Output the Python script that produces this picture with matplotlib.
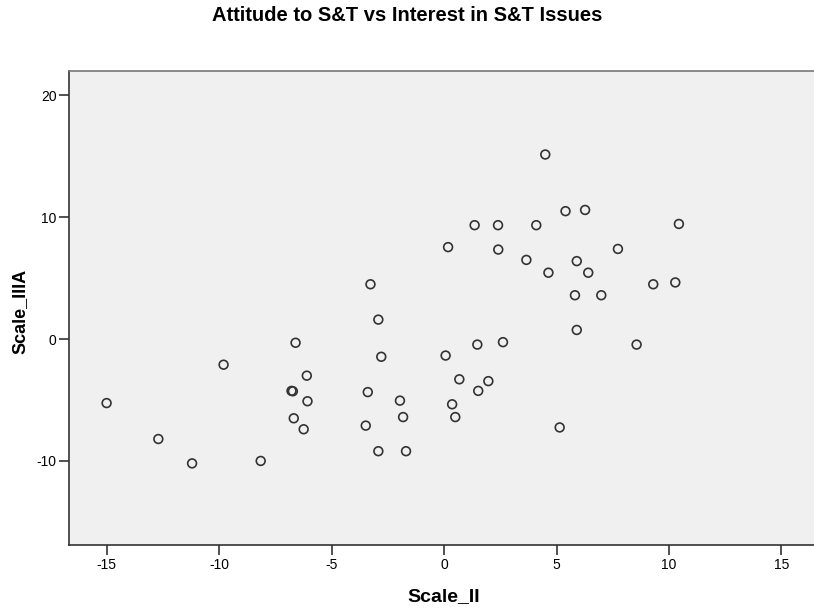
import matplotlib
matplotlib.use("Agg")
import matplotlib.pyplot as plt

plt.rcParams['font.family'] = ['Liberation Sans', 'DejaVu Sans']
plt.rcParams['axes.unicode_minus'] = False

# Scale_II (x) and Scale_IIIA (y) scores
scale_ii = [-15.0, -12.7, -11.2, -9.8, -8.15, -6.6, -6.1, -6.78, -6.72, -6.07,
            -6.68, -6.24, -3.27, -2.92, -2.79, -3.39, -3.48, -2.92, -1.69, -1.96,
            -1.82, 0.07, 0.18, 0.68, 0.36, 0.5, 1.48, 1.52, 1.97, 2.62,
            1.36, 2.4, 2.41, 4.1, 3.66, 4.5, 4.64, 5.4, 6.27, 5.9,
            6.41, 5.82, 6.99, 7.73, 5.9, 5.14, 8.56, 9.3, 10.28, 10.44]
scale_iiia = [-5.25, -8.2, -10.2, -2.1, -10.0, -0.3, -3.0, -4.25, -4.28, -5.1,
              -6.5, -7.4, 4.5, 1.6, -1.45, -4.35, -7.1, -9.2, -9.2, -5.05,
              -6.4, -1.35, 7.55, -3.3, -5.35, -6.4, -0.45, -4.25, -3.45, -0.25,
              9.35, 9.35, 7.35, 9.35, 6.5, 15.15, 5.45, 10.5, 10.6, 6.4,
              5.45, 3.6, 3.6, 7.4, 0.75, -7.25, -0.45, 4.5, 4.65, 9.45]
x_ticks = [-15, -10, -5, 0, 5, 10, 15]
y_ticks = [-10, 0, 10, 20]

fig = plt.figure(figsize=(8.14, 6.13), dpi=100)
ax = fig.add_axes([0.0848, 0.1109, 0.9214, 0.7732])
ax.set_facecolor("#f0f0f0")

ax.scatter(scale_ii, scale_iiia, s=40, facecolors="none", edgecolors="#333333",
           linewidths=1.2, zorder=3)

ax.set_xlim(-16.67, 16.67)
ax.set_ylim(-16.9, 22.0)
ax.set_xticks(x_ticks)
ax.set_yticks(y_ticks)
ax.tick_params(direction="out", length=7, width=1.2, color="#333333",
               labelsize=10, pad=2, top=False, right=False)

for side in ["left", "bottom"]:
    ax.spines[side].set_color("#333333")
    ax.spines[side].set_linewidth(1.2)
for side in ["top", "right"]:
    ax.spines[side].set_color("#777777")
    ax.spines[side].set_linewidth(1.2)

ax.set_xlabel("Scale_II", fontsize=14, fontweight="bold", va="center")
ax.xaxis.set_label_coords(0.4995, -0.1097)
ax.set_ylabel("Scale_IIIA", fontsize=13, fontweight="bold", va="center")
ax.yaxis.set_label_coords(-0.0653, 0.493)
fig.text(0.5, 0.975, "Attitude to S&T vs Interest in S&T Issues", ha="center",
         va="center", fontsize=14.5, fontweight="bold")

fig.savefig("out.png", dpi=100)
